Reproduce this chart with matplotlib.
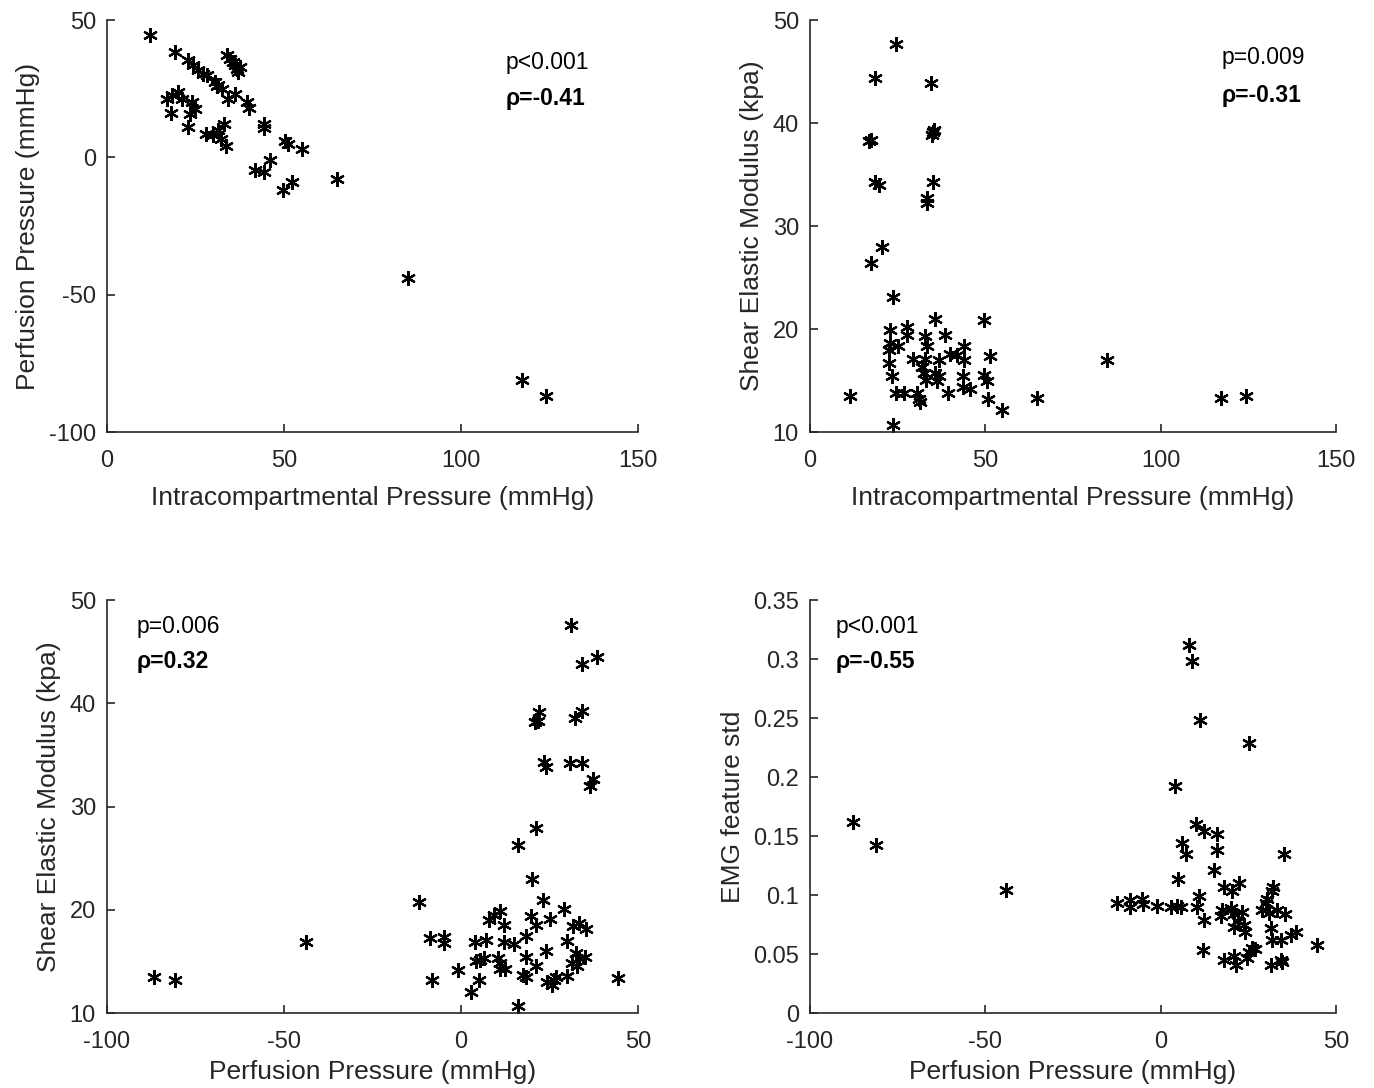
import matplotlib
matplotlib.use("Agg")
import matplotlib.pyplot as plt

plt.rcParams['font.family'] = ['Liberation Sans', 'DejaVu Sans']
plt.rcParams['axes.unicode_minus'] = False

# panel 1: intracompartmental pressure vs perfusion pressure
icp_a = [12.1, 19.2, 23.0, 24.4, 25.8, 27.2, 28.2, 30.5, 31.4, 32.4, 31.0,
         33.8, 34.7, 35.7, 36.2, 36.6, 37.1, 37.6, 34.3, 36.2, 39.5, 40.2,
         44.2, 44.2, 50.3, 51.2, 55.0, 46.0, 41.8, 44.2, 52.2, 49.8, 64.9,
         16.9, 18.3, 20.1, 21.1, 18.0, 23.9, 24.9, 23.4, 23.0, 28.0, 30.0,
         31.4, 32.9, 33.6, 32.3, 85.1, 117.1, 124.0]
pp_a = [44.4, 38.3, 35.3, 33.5, 31.7, 30.5, 29.9, 27.4, 26.2, 25.0, 26.0,
        37.1, 35.9, 34.7, 33.5, 32.3, 31.1, 32.9, 21.4, 23.2, 20.1, 18.1,
        12.0, 10.8, 5.9, 4.7, 3.2, -0.8, -4.7, -5.3, -9.0, -12.0, -7.8,
        21.4, 22.6, 23.8, 21.4, 16.1, 20.1, 17.7, 15.9, 11.0, 8.6, 8.0,
        9.8, 12.3, 4.0, 6.6, -43.8, -80.9, -87.0]

# panel 2: intracompartmental pressure vs shear elastic modulus
icp_b = [24.6, 18.6, 34.6, 16.9, 17.5, 35.2, 35.4, 34.9, 18.6, 19.8, 35.2,
         33.5, 33.5, 20.5, 17.4, 23.6, 35.7, 49.7, 22.7, 27.6, 27.6, 32.7,
         38.6, 33.5, 43.8, 22.9, 25.2, 22.4, 29.5, 32.9, 36.7, 40.0, 41.9,
         43.8, 51.4, 22.4, 31.9, 32.4, 35.7, 36.7, 33.0, 36.2, 23.5, 43.6,
         49.5, 50.5, 43.6, 45.7, 39.5, 24.6, 26.7, 30.5, 31.0, 31.4, 50.8,
         54.8, 11.4, 64.8, 23.6, 84.8, 117.1, 124.3]
sem_b = [47.7, 44.4, 43.9, 38.3, 38.4, 39.1, 39.3, 38.8, 34.3, 34.0, 34.3,
         32.7, 32.2, 28.0, 26.4, 23.1, 21.0, 20.9, 19.9, 20.2, 19.4, 19.3,
         19.4, 18.4, 18.4, 18.6, 18.4, 18.0, 17.1, 17.1, 17.0, 17.6, 17.5,
         17.0, 17.4, 16.7, 16.3, 15.7, 15.7, 15.4, 15.1, 15.0, 15.4, 15.4,
         15.5, 15.0, 14.4, 14.2, 13.8, 13.8, 13.8, 13.8, 13.2, 12.9, 13.2,
         12.1, 13.5, 13.3, 10.7, 17.0, 13.3, 13.5]

# panel 3: perfusion pressure vs shear elastic modulus
pp_c = [31.1, 38.3, 34.1, 22.1, 21.6, 21.0, 34.2, 32.2, 23.4, 24.0, 30.8,
        34.1, 37.2, 36.4, 21.2, 16.2, 19.9, -11.9, 23.1, 29.0, 10.9, 9.2,
        8.0, 19.7, 21.2, 25.0, 12.1, 31.7, 33.2, 35.4, 18.3, -8.8, -4.9,
        -4.7, -43.8, 3.9, 7.1, 12.1, 14.9, 29.8, 4.2, 5.4, 6.4, 10.5, 11.1,
        18.4, 24.0, 32.6, 33.3, 31.3, 32.8, 35.1, -0.9, 10.9, 12.4, 21.2,
        17.4, 18.4, 29.8, 26.9, 24.4, 25.6, 26.3, -8.1, 5.2, 2.9, 16.2,
        -86.7, -80.8, 44.3]
sem_c = [47.6, 44.5, 43.8, 39.2, 38.3, 38.2, 39.3, 38.6, 34.3, 33.8, 34.2,
         34.2, 32.7, 32.0, 27.9, 26.3, 23.0, 20.8, 20.9, 20.1, 19.9, 19.5,
         19.0, 19.4, 18.5, 19.1, 18.5, 18.4, 18.7, 18.1, 17.5, 17.3, 17.4,
         16.8, 16.9, 16.9, 17.1, 16.9, 16.7, 17.0, 15.0, 15.1, 15.3, 15.3,
         14.8, 15.4, 16.0, 15.8, 15.3, 14.8, 14.6, 15.4, 14.2, 14.3, 14.3,
         14.6, 13.7, 13.5, 13.6, 13.5, 13.0, 12.7, 13.2, 13.2, 13.2, 12.0,
         10.7, 13.5, 13.2, 13.4]

# panel 4: perfusion pressure vs EMG feature std
pp_d = [8.1, 9.0, 11.1, 25.2, 4.0, 10.2, 12.4, 16.2, 6.0, 7.1, 16.2, 35.2,
        4.9, 15.2, 18.1, 22.3, 20.4, 32.1, 31.8, 30.4, 30.0, -12.4, -8.6,
        -8.7, -5.2, -5.1, -0.9, 2.9, 4.6, 5.9, 10.9, 10.3, 12.4, 17.6, 17.1,
        20.2, 21.0, 23.3, 22.0, 23.8, 24.2, 20.9, 29.0, 30.9, 33.3, 35.6,
        31.4, 31.8, 34.2, 37.1, 38.5, 44.5, 12.2, 18.1, 20.9, 21.4, 25.2,
        26.1, 27.0, 24.7, 31.4, 34.2, 34.7, -87.8, -81.3, -44.2]
emg_d = [0.312, 0.298, 0.248, 0.229, 0.192, 0.160, 0.154, 0.152, 0.144,
         0.135, 0.138, 0.135, 0.114, 0.121, 0.107, 0.110, 0.103, 0.107,
         0.103, 0.097, 0.093, 0.093, 0.096, 0.090, 0.097, 0.092, 0.091,
         0.090, 0.091, 0.090, 0.099, 0.090, 0.079, 0.087, 0.082, 0.089,
         0.084, 0.086, 0.078, 0.075, 0.069, 0.073, 0.087, 0.085, 0.087,
         0.084, 0.072, 0.062, 0.062, 0.066, 0.069, 0.058, 0.053, 0.045,
         0.048, 0.041, 0.052, 0.055, 0.054, 0.047, 0.041, 0.045, 0.043,
         0.162, 0.142, 0.104]

ink = '#262626'
lab_icp = 'Intracompartmental Pressure (mmHg)'
lab_pp = 'Perfusion Pressure (mmHg)'
lab_sem = 'Shear Elastic Modulus (kpa)'

fig = plt.figure(figsize=(13.74, 10.88), dpi=100)
ax1 = fig.add_axes([0.0779, 0.6029, 0.3865, 0.3787])
ax2 = fig.add_axes([0.5895, 0.6029, 0.3828, 0.3787])
ax3 = fig.add_axes([0.0779, 0.0689, 0.3865, 0.3796])
ax4 = fig.add_axes([0.5895, 0.0689, 0.3828, 0.3796])

panels = [
    (ax1, icp_a, pp_a, lab_icp, 'Perfusion Pressure (mmHg)', (0, 150), (-100, 50),
     [0, 50, 100, 150], [-100, -50, 0, 50], 'p<0.001', 'ρ=-0.41', 0.75, 0.898, 0.81, 10),
    (ax2, icp_b, sem_b, lab_icp, lab_sem, (0, 150), (10, 50),
     [0, 50, 100, 150], [10, 20, 30, 40, 50], 'p=0.009', 'ρ=-0.31', 0.783, 0.908, 0.818, 10),
    (ax3, pp_c, sem_c, lab_pp, lab_sem, (-100, 50), (10, 50),
     [-100, -50, 0, 50], [10, 20, 30, 40, 50], 'p=0.006', 'ρ=0.32', 0.056, 0.935, 0.85, 5),
    (ax4, pp_d, emg_d, lab_pp, 'EMG feature std', (-100, 50), (0, 0.35),
     [-100, -50, 0, 50], [0, 0.05, 0.1, 0.15, 0.2, 0.25, 0.3, 0.35],
     'p<0.001', 'ρ=-0.55', 0.048, 0.935, 0.85, 5),
]

for ax, xs, ys, xl, yl, xlim, ylim, xt, yt, ptxt, rtxt, tx, ty1, ty2, lp in panels:
    ax.plot(xs, ys, linestyle='none', marker=(6, 2, 0), markersize=10.5,
            markeredgewidth=1.6, color='black', clip_on=False)
    ax.set_xlim(xlim)
    ax.set_ylim(ylim)
    ax.set_xticks(xt)
    ax.set_yticks(yt)
    ax.set_yticklabels([('%g' % v) for v in yt])
    ax.spines['top'].set_visible(False)
    ax.spines['right'].set_visible(False)
    for s in ['left', 'bottom']:
        ax.spines[s].set_color(ink)
        ax.spines[s].set_linewidth(1.2)
    ax.tick_params(direction='in', length=6, width=1.2, colors=ink,
                   labelsize=17, pad=8)
    ax.tick_params(axis='x', pad=13)
    ax.set_xlabel(xl, fontsize=19, color=ink, labelpad=lp)
    ax.set_ylabel(yl, fontsize=19, color=ink, labelpad=6)
    ax.text(tx, ty1, ptxt, transform=ax.transAxes, fontsize=16.5,
            va='center', ha='left', color='black')
    ax.text(tx, ty2, rtxt, transform=ax.transAxes, fontsize=16.5,
            va='center', ha='left', color='black', fontweight='bold')

fig.savefig('out.png', dpi=100)
